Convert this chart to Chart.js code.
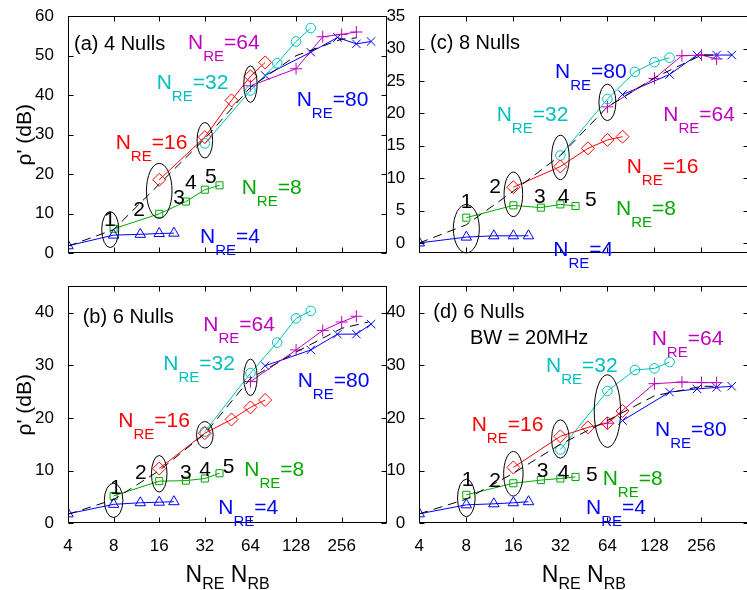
<!DOCTYPE html>
<html><head><meta charset="utf-8">
<script src="https://cdn.jsdelivr.net/npm/chart.js@4/dist/chart.umd.min.js"></script>
<style>
html,body{margin:0;padding:0;background:#fff;}
#wrap{position:relative;width:747px;height:590px;overflow:hidden;background:#fff}
.cv{position:absolute}
</style></head><body>
<div id="wrap">
<canvas class="cv" id="ca" width="395" height="270" style="left:0;top:0"></canvas>
<canvas class="cv" id="cb" width="395" height="320" style="left:0;top:270px"></canvas>
<canvas class="cv" id="cc" width="386" height="270" style="left:370px;top:0"></canvas>
<canvas class="cv" id="cd" width="386" height="320" style="left:370px;top:270px"></canvas>
</div>
<script>
// ---------- data ----------
const xTicks = [4, 8, 16, 32, 64, 128, 256];
const xRE4  = [4, 8, 12, 16, 20];
const xRE8  = [8, 16, 24, 32, 40];
const xRE16 = [16, 32, 48, 64, 80];
const xRE32 = [32, 64, 96, 128, 160];
const xRE64 = [64, 128, 192, 256, 320];
const xRE80 = [80, 160, 240, 320, 400];
const xFitA = [4, 8, 16, 32, 64, 128, 256, 320];
const xFitB = [4, 8, 16, 32, 64, 128, 256, 384];

const yTicksA = [0, 10, 20, 30, 40, 50, 60];
const yTicksB = [0, 10, 20, 30, 40];
const yTicksC = [0, 5, 10, 15, 20, 25, 30, 35];
const yTicksD = [0, 10, 20, 30, 40];

// (a) 4 Nulls
const a_RE4  = [1.9, 4.6, 4.8, 5.0, 5.1];
const a_RE8  = [6.2, 10.0, 13.1, 16.1, 17.2];
const a_RE16 = [18.6, 29.4, 38.7, 44.8, 48.3];
const a_RE32 = [27.8, 41.2, 48.1, 53.6, 57.0];
const a_RE64 = [42.4, 46.7, 54.8, 55.4, 56.0];
const a_RE80 = [45.0, 50.9, 54.6, 53.0, 53.6];
const a_fit  = [1.8, 6.0, 17.5, 29.0, 42.0, 50.0, 54.2, 54.5];

// (b) 6 Nulls
const b_RE4  = [1.8, 3.6, 3.9, 4.0, 4.1];
const b_RE8  = [5.2, 8.0, 8.1, 8.5, 9.5];
const b_RE16 = [10.4, 17.1, 19.7, 22.0, 23.4];
const b_RE32 = [17.4, 28.5, 34.3, 38.9, 40.3];
const b_RE64 = [26.9, 32.9, 36.6, 38.2, 39.3];
const b_RE80 = [29.9, 32.9, 35.9, 35.9, 37.8];
const b_fit  = [1.7, 4.5, 10.0, 17.0, 27.5, 32.5, 37.0, 38.2];

// (c) 8 Nulls
const c_RE4  = [0.0, 0.9, 1.1, 1.1, 1.1];
const c_RE8  = [3.9, 5.8, 5.45, 5.95, 5.7];
const c_RE16 = [8.6, 11.8, 14.6, 15.9, 16.4];
const c_RE32 = [13.5, 22.2, 26.4, 27.9, 28.6];
const c_RE64 = [21.0, 25.4, 28.9, 29.0, 28.4];
const c_RE80 = [22.9, 26.0, 29.0, 29.0, 29.0];
const c_fit  = [0.0, 2.8, 8.0, 13.5, 21.0, 25.5, 29.0, 29.0];

// (d) 6 Nulls, BW = 20MHz
const d_RE4  = [1.8, 3.5, 3.7, 3.9, 4.1];
const d_RE8  = [5.4, 7.6, 8.2, 8.5, 8.8];
const d_RE16 = [10.6, 16.5, 18.2, 19.0, 21.3];
const d_RE32 = [14.0, 25.1, 29.1, 29.4, 30.6];
const d_RE64 = [19.0, 26.5, 26.8, 26.7, 26.7];
const d_RE80 = [19.5, 24.9, 25.5, 25.8, 26.0];
const d_fit  = [1.8, 4.6, 9.5, 15.0, 19.5, 24.2, 26.0, 26.0];

// ellipse centres (data coords)
const a_ellX = [7.6, 16, 32, 64];   const a_ellY = [6.0, 15.8, 28.6, 42.8];
const b_ellX = [8, 16, 32, 64];     const b_ellY = [4.35, 9.4, 16.8, 27.7];
const c_ellX = [8, 16, 32, 64];     const c_ellY = [2.2, 7.5, 13.2, 21.7];
const d_ellX = [8, 16, 32, 64];     const d_ellY = [4.8, 9.4, 16.0, 21.3];

// ---------- style ----------
const FONT = '"Liberation Sans", Arial, Helvetica, sans-serif';
const BLU = '#0000ff', GRN = '#00a800', RED = '#ff0000', CYA = '#00bfbf', MAG = '#bf00bf', BLK = '#000000';
const seriesStyle = [
  {c: BLU, ps: 'triangle', r: 6},
  {c: GRN, ps: 'rect', r: 5},
  {c: RED, ps: 'rectRot', r: 6.5},
  {c: CYA, ps: 'circle', r: 4.8},
  {c: MAG, ps: 'cross', r: 6},
  {c: BLU, ps: 'crossRot', r: 6}
];
const seriesX = [xRE4, xRE8, xRE16, xRE32, xRE64, xRE80];

const panels = [
  { id: 'ca', left: 0, top: 0, series: [a_RE4, a_RE8, a_RE16, a_RE32, a_RE64, a_RE80], fitX: xFitA, fit: a_fit,
    yMin: 0, yMax: 60, yTicks: yTicksA, showX: false, yAxisW: 68, xAxisH: 16.7, padTop: 7, padRight: 7.7,
    ellX: a_ellX, ellY: a_ellY, ellR: [[8.5, 18], [12.8, 27.5], [7.8, 17.8], [6.7, 18.3]],
    titles: [['(a) 4 Nulls', 6, 34]],
    labels: [['=64', MAG, 120, 32.5], ['=32', CYA, 88.7, 73], ['=80', BLU, 228.7, 89.7],
             ['=16', RED, 47.7, 132.3], ['=8', GRN, 173.7, 178], ['=4', BLU, 132, 226.3]],
    nums: [[36, 210], [65.3, 199.7], [105.3, 188], [117, 172.3], [137, 166.3]] },
  { id: 'cb', left: 0, top: 270, series: [b_RE4, b_RE8, b_RE16, b_RE32, b_RE64, b_RE80], fitX: xFitB, fit: b_fit,
    yMin: 0, yMax: 45, yTicks: yTicksB, showX: true, yAxisW: 68, xAxisH: 66.7, padTop: 7.3, padRight: 7.7,
    ellX: b_ellX, ellY: b_ellY, ellR: [[9.3, 17.2], [7.8, 18.3], [8.3, 13.3], [6.7, 18.3]],
    titles: [['(b) 6 Nulls', 14.7, 36.7]],
    labels: [['=64', MAG, 135.3, 44.4], ['=32', CYA, 95.3, 83.4], ['=80', BLU, 229.7, 101],
             ['=16', RED, 50.3, 141], ['=8', GRN, 176.3, 189.4], ['=4', BLU, 150.3, 227.7]],
    nums: [[42, 207.7], [67, 192.7], [112, 192.7], [131.3, 189.4], [154.7, 186.7]] },
  { id: 'cc', left: 370, top: 0, series: [c_RE4, c_RE8, c_RE16, c_RE32, c_RE64, c_RE80], fitX: xFitA, fit: c_fit,
    yMin: -1.6, yMax: 35, yTicks: yTicksC, showX: false, yAxisW: 49.3, xAxisH: 16.7, padTop: 6.7, padRight: 0.7,
    ellX: c_ellX, ellY: c_ellY, ellR: [[13, 24.2], [9.3, 22.3], [8.8, 22.2], [8.5, 18.3]],
    titles: [['(c) 8 Nulls', 10.7, 32.6]],
    labels: [['=80', BLU, 135.7, 61.6], ['=32', CYA, 77.4, 105], ['=64', MAG, 244, 105],
             ['=16', RED, 207.4, 156.6], ['=8', GRN, 196.7, 198.3], ['=4', BLU, 134, 240]],
    nums: [[41.4, 191.6], [70, 176.6], [114.7, 186.6], [138.4, 186.6], [165.7, 190]] },
  { id: 'cd', left: 370, top: 270, series: [d_RE4, d_RE8, d_RE16, d_RE32, d_RE64, d_RE80], fitX: xFitA, fit: d_fit,
    yMin: 0, yMax: 45, yTicks: yTicksD, showX: true, yAxisW: 49.3, xAxisH: 66.7, padTop: 7.3, padRight: 0.7,
    ellX: d_ellX, ellY: d_ellY, ellR: [[8.8, 18.8], [9.7, 22.3], [8.8, 19.2], [13.2, 36.3]],
    titles: [['(d) 6 Nulls', 14, 32], ['BW = 20MHz', 50.7, 57.7]],
    labels: [['=64', MAG, 232.4, 58.7], ['=32', CYA, 126.7, 86], ['=16', RED, 52.4, 144.4],
             ['=80', BLU, 235.7, 149.4], ['=8', GRN, 183.4, 198.7], ['=4', BLU, 166.7, 227.7]],
    nums: [[42.4, 199.4], [70, 201], [117.4, 191], [138.4, 192.7], [166.7, 194.4]] }
];

function subText(ctx, x, y, main, sub, tail, color, size, subSize, drop) {
  ctx.fillStyle = color; ctx.textAlign = 'left'; ctx.textBaseline = 'alphabetic';
  ctx.font = size + 'px ' + FONT; ctx.fillText(main, x, y);
  let w = ctx.measureText(main).width;
  ctx.font = subSize + 'px ' + FONT; ctx.fillText(sub, x + w, y + drop);
  w += ctx.measureText(sub).width;
  if (tail) { ctx.font = size + 'px ' + FONT; ctx.fillText(tail, x + w, y); w += ctx.measureText(tail).width; }
  return w;
}
function subWidth(ctx, parts) {
  let w = 0;
  for (const [t, s] of parts) { ctx.font = s + 'px ' + FONT; w += ctx.measureText(t).width; }
  return w;
}

function decor(p) {
  return {
    id: 'decor' + p.id,
    afterDraw(chart) {
      const ctx = chart.ctx, a = chart.chartArea, xs = chart.scales.x, ys = chart.scales.y;
      ctx.save();
      ctx.strokeStyle = BLK; ctx.lineWidth = 1;
      const L = Math.round(a.left) + 0.5, R = Math.round(a.right) - 0.5, T = Math.round(a.top) + 0.5, B = Math.round(a.bottom) - 0.5;
      ctx.strokeRect(L, T, R - L, B - T);
      const tl = 5;
      ctx.beginPath();
      for (const v of xTicks) {
        const px = Math.round(xs.getPixelForValue(v)) + 0.5;
        ctx.moveTo(px, B); ctx.lineTo(px, B - tl);
        ctx.moveTo(px, T); ctx.lineTo(px, T + tl);
      }
      for (const v of p.yTicks) {
        const py = Math.round(ys.getPixelForValue(v)) + 0.5;
        ctx.moveTo(L, py); ctx.lineTo(L + tl, py);
        ctx.moveTo(R, py); ctx.lineTo(R - tl, py);
      }
      ctx.stroke();
      // ellipses
      for (let i = 0; i < p.ellX.length; i++) {
        const cx = xs.getPixelForValue(p.ellX[i]), cy = ys.getPixelForValue(p.ellY[i]);
        ctx.beginPath(); ctx.ellipse(cx, cy, p.ellR[i][0], p.ellR[i][1], 0, 0, Math.PI * 2); ctx.stroke();
      }
      // titles
      ctx.fillStyle = BLK; ctx.textAlign = 'left'; ctx.textBaseline = 'alphabetic';
      ctx.font = '20px ' + FONT;
      for (const [t, x, y] of p.titles) ctx.fillText(t, a.left + x, a.top + y);
      // numbers
      ctx.font = '21px ' + FONT;
      p.nums.forEach((n, i) => ctx.fillText(String(i + 1), a.left + n[0], a.top + n[1]));
      // series labels
      for (const [tail, col, x, y] of p.labels) subText(ctx, a.left + x, a.top + y, 'N', 'RE', tail, col, 21, 15, 12);
      // y axis title (left panels)
      if (p.left === 0) {
        ctx.save();
        ctx.translate(25, (a.top + a.bottom) / 2);
        ctx.rotate(-Math.PI / 2);
        ctx.fillStyle = BLK; ctx.textAlign = 'center'; ctx.textBaseline = 'middle';
        ctx.font = '21px ' + FONT;
        ctx.fillText("\u03C1' (dB)", 0, 0);
        ctx.restore();
      }
      // x axis title (bottom panels)
      if (p.showX) {
        const w = subWidth(ctx, [['N', 23], ['RE', 16], [' N', 23], ['RB', 16]]);
        const cx = (a.left + a.right) / 2;
        let x0 = cx - w / 2;
        const by = 311.7;
        x0 += subText(ctx, x0, by, 'N', 'RE', ' ', BLK, 23, 16, 7);
        subText(ctx, x0, by, 'N', 'RB', '', BLK, 23, 16, 7);
      }
      ctx.restore();
    }
  };
}

for (const p of panels) {
  const datasets = [];
  datasets.push({
    data: p.fitX.map((x, i) => ({x, y: p.fit[i]})),
    borderColor: BLK, borderWidth: 1, borderDash: [9, 6], pointRadius: 0, fill: false, tension: 0
  });
  p.series.forEach((ys, k) => {
    const st = seriesStyle[k];
    datasets.push({
      data: seriesX[k].map((x, i) => ({x, y: ys[i]})),
      borderColor: st.c, borderWidth: 1, fill: false, tension: 0,
      pointStyle: st.ps, pointRadius: st.r, pointBorderColor: st.c, pointBorderWidth: 1,
      pointBackgroundColor: 'rgba(0,0,0,0)'
    });
  });
  new Chart(document.getElementById(p.id), {
    type: 'line',
    data: { datasets },
    options: {
      responsive: false, animation: false, devicePixelRatio: 1,
      layout: { padding: { top: p.padTop, right: p.padRight, left: 0, bottom: 0 } },
      plugins: { legend: { display: false }, tooltip: { enabled: false } },
      scales: {
        x: {
          type: 'logarithmic', min: 4, max: 512,
          grid: { display: false }, border: { display: false },
          ticks: { display: p.showX, autoSkip: false, maxRotation: 0, padding: 5, color: BLK,
                   font: { family: FONT, size: 17 }, callback: (v) => String(v) },
          afterBuildTicks: (s) => { s.ticks = xTicks.map(v => ({ value: v })); },
          afterFit: (s) => { s.height = p.xAxisH; }
        },
        y: {
          type: 'linear', min: p.yMin, max: p.yMax,
          grid: { display: false }, border: { display: false },
          ticks: { padding: 6, color: BLK, font: { family: FONT, size: 17 } },
          afterBuildTicks: (s) => { s.ticks = p.yTicks.map(v => ({ value: v })); },
          afterFit: (s) => { s.width = p.yAxisW; }
        }
      }
    },
    plugins: [decor(p)]
  });
}
</script>
</body></html>
